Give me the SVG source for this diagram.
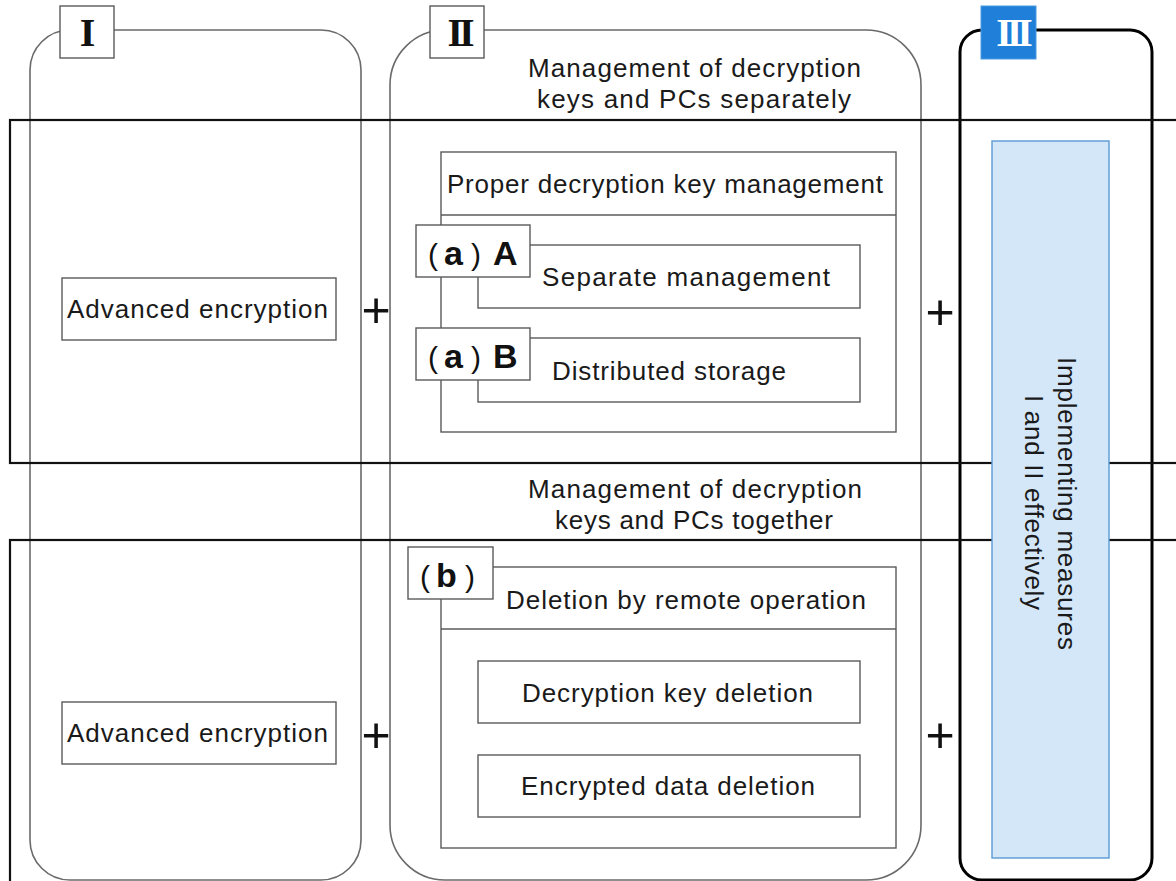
<svg xmlns="http://www.w3.org/2000/svg" width="1176" height="881" viewBox="0 0 1176 881">
  <style>
    .col { fill: none; stroke: #6a6a6a; stroke-width: 1.6; }
    .col3 { fill: none; stroke: #000; stroke-width: 3; }
    .band { fill: none; stroke: #111; stroke-width: 2.2; }
    .box { fill: #fff; stroke: #5a5a5a; stroke-width: 1.4; }
    .lbl { fill: #fff; stroke: #5a5a5a; stroke-width: 1.4; }
    .t { font-family: "Liberation Sans", Arial, sans-serif; font-size: 26px; fill: #1a1a1a; text-anchor: middle; }
    .tag { font-family: "Liberation Sans", Arial, sans-serif; font-size: 30px; fill: #111; }
    .tagl { font-size: 34px; font-weight: bold; }
    .roman { font-family: "Liberation Serif", "Times New Roman", serif; font-weight: bold; font-size: 40px; text-anchor: middle; }
    .plus { font-family: "Liberation Sans", Arial, sans-serif; font-size: 50px; fill: #111; text-anchor: middle; }
  </style>

  <rect width="1176" height="881" fill="#fff"/>

  <!-- Columns -->
  <g id="column-1">
    <rect class="col" x="30" y="30" width="331" height="850" rx="40" ry="40"/>
  </g>
  <g id="column-2">
    <rect class="col" x="390" y="30" width="531" height="850" rx="55" ry="55"/>
  </g>
  <g id="column-3">
    <rect class="col3" x="960" y="30" width="192" height="850" rx="22" ry="22"/>
  </g>

  <!-- Horizontal bands -->
  <g id="bands">
    <rect class="band" x="10" y="120" width="1200" height="343"/>
    <rect class="band" x="10" y="540" width="1200" height="400"/>
  </g>

  <!-- Column labels -->
  <g id="label-I">
    <rect class="lbl" x="60" y="6" width="54" height="52"/>
    <text class="roman" x="87.5" y="46" fill="#111">I</text>
  </g>
  <g id="label-II">
    <rect class="lbl" x="430" y="6" width="54" height="52"/>
    <text class="roman" x="459" y="46" fill="#111" letter-spacing="-4">II</text>
  </g>
  <g id="label-III">
    <rect x="981" y="6" width="55" height="53" fill="#1f7fd9" stroke="#4a9be0" stroke-width="1"/>
    <text class="roman" x="1012" y="46" fill="#fff" letter-spacing="-5">III</text>
  </g>

  <!-- Band headings -->
  <g id="heading-separately">
    <text class="t" x="694.5" y="77" textLength="333" lengthAdjust="spacing">Management of decryption</text>
    <text class="t" x="694" y="108" textLength="314" lengthAdjust="spacing">keys and PCs separately</text>
  </g>
  <g id="heading-together">
    <text class="t" x="695" y="498" textLength="334" lengthAdjust="spacing">Management of decryption</text>
    <text class="t" x="694" y="529" textLength="278" lengthAdjust="spacing">keys and PCs together</text>
  </g>

  <!-- Advanced encryption nodes -->
  <g id="adv-enc-1">
    <rect class="box" x="62" y="278" width="274" height="62"/>
    <text class="t" x="197.5" y="318" textLength="261" lengthAdjust="spacing">Advanced encryption</text>
  </g>
  <g id="adv-enc-2">
    <rect class="box" x="62" y="702" width="274" height="62"/>
    <text class="t" x="197.5" y="742" textLength="261" lengthAdjust="spacing">Advanced encryption</text>
  </g>

  <!-- Proper decryption key management -->
  <g id="proper-key-mgmt">
    <rect class="box" x="441" y="152" width="455" height="280"/>
    <line x1="441" y1="215" x2="896" y2="215" stroke="#5a5a5a" stroke-width="1.4"/>
    <text class="t" x="665" y="193" textLength="436" lengthAdjust="spacing">Proper decryption key management</text>
  </g>
  <g id="separate-mgmt">
    <rect class="box" x="478" y="245" width="382" height="63"/>
    <text class="t" x="686" y="286" textLength="288" lengthAdjust="spacing">Separate management</text>
  </g>
  <g id="tag-aA">
    <rect class="lbl" x="416" y="225" width="114" height="52"/>
    <text class="tag" y="265"><tspan x="428">(</tspan><tspan class="tagl" x="444">a</tspan><tspan x="471">)</tspan><tspan class="tagl" x="493">A</tspan></text>
  </g>
  <g id="distributed-storage">
    <rect class="box" x="478" y="338" width="382" height="64"/>
    <text class="t" x="669" y="380" textLength="234" lengthAdjust="spacing">Distributed storage</text>
  </g>
  <g id="tag-aB">
    <rect class="lbl" x="416" y="328" width="114" height="52"/>
    <text class="tag" y="368"><tspan x="428">(</tspan><tspan class="tagl" x="444">a</tspan><tspan x="471">)</tspan><tspan class="tagl" x="493">B</tspan></text>
  </g>

  <!-- Deletion by remote operation -->
  <g id="remote-deletion">
    <rect class="box" x="441" y="567" width="455" height="281"/>
    <line x1="441" y1="629" x2="896" y2="629" stroke="#5a5a5a" stroke-width="1.4"/>
    <text class="t" x="686" y="609" textLength="360" lengthAdjust="spacing">Deletion by remote operation</text>
  </g>
  <g id="tag-b">
    <rect class="lbl" x="408" y="547" width="85" height="52"/>
    <text class="tag" y="587"><tspan x="420">(</tspan><tspan class="tagl" x="436">b</tspan><tspan x="465">)</tspan></text>
  </g>
  <g id="key-deletion">
    <rect class="box" x="478" y="661" width="382" height="62"/>
    <text class="t" x="667.5" y="702" textLength="291" lengthAdjust="spacing">Decryption key deletion</text>
  </g>
  <g id="data-deletion">
    <rect class="box" x="478" y="755" width="382" height="62"/>
    <text class="t" x="668" y="795" textLength="294" lengthAdjust="spacing">Encrypted data deletion</text>
  </g>

  <!-- Implementing measures -->
  <g id="implementing">
    <rect x="992" y="141" width="117" height="717" fill="#d4e7f9" stroke="#5b9bd5" stroke-width="1.4"/>
    <text class="t" transform="translate(1058,503.5) rotate(90)" x="0" y="0" textLength="293" lengthAdjust="spacing">Implementing measures</text>
    <text class="t" transform="translate(1025,502.5) rotate(90)" x="0" y="0" textLength="215" lengthAdjust="spacing">I and II effectively</text>
  </g>

  <!-- Plus connectors -->
  <g id="connectors">
    <text class="plus" x="376" y="327">+</text>
    <text class="plus" x="940" y="329">+</text>
    <text class="plus" x="376" y="752">+</text>
    <text class="plus" x="940" y="752">+</text>
  </g>
</svg>
